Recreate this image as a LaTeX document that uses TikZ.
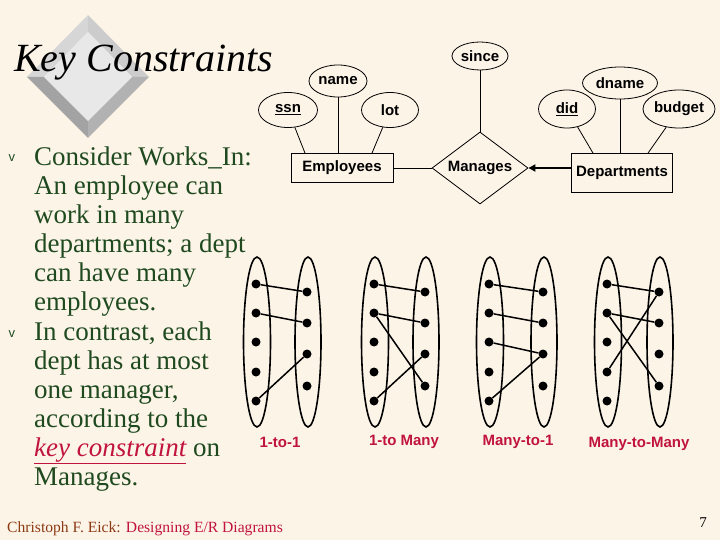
\documentclass[tikz,border=0pt]{standalone}
\usepackage{fontspec}
\setmainfont{Liberation Serif}
\newfontfamily\arialfont{Liberation Sans}
\usetikzlibrary{arrows.meta,shapes.geometric}
\definecolor{slidebg}{HTML}{FDF4E8}
\definecolor{textgreen}{HTML}{1F4A1F}
\definecolor{keyred}{HTML}{C0143C}
\definecolor{authorbrown}{HTML}{8C3A14}
\def\bipart#1#2#3{%
  \draw[set] (#2+1,342) ellipse (13.5 and 85);
  \draw[set] (#3+1,342) ellipse (13 and 85);
  \foreach \i/\y in {1/284,2/313,3/342,4/372,5/401}
    \node[dot] (#1l\i) at (#2,\y) {};
  \foreach \i/\y in {1/292,2/323,3/354,4/386}
    \node[dot] (#1r\i) at (#3,\y) {};
}

\begin{document}
\begin{tikzpicture}[x=1pt, y=-1pt,
    erfont/.style={font=\arialfont\bfseries\fontsize{15}{15}\selectfont},
    attr/.style={ellipse, draw, line width=0.8pt, erfont, inner sep=0pt},
    entity/.style={rectangle, draw, line width=0.8pt, erfont, inner sep=0pt},
    relship/.style={diamond, draw, line width=0.8pt, erfont, inner sep=0pt, aspect=1.33},
    dot/.style={circle, fill=black, inner sep=0pt, minimum size=9pt},
    set/.style={line width=1.6pt},
    link/.style={line width=1.5pt},
    maplabel/.style={erfont, text=keyred},
    bodytext/.style={anchor=base west, inner sep=0pt, align=left, text=textgreen,
      font=\fontsize{27}{29}\selectfont}]
  %%%%% START %%%%%

  \fill[slidebg] (0,0) rectangle (720,540);
  \useasboundingbox (0,0) rectangle (720,540);

  % title with bevelled diamond
  \fill[black!16] (88,15) -- (27,77) -- (44,77) -- (88,32) -- cycle;
  \fill[black!20] (88,15) -- (149,77) -- (132,77) -- (88,32) -- cycle;
  \fill[black!36] (27,77) -- (88,138) -- (88,121) -- (44,77) -- cycle;
  \fill[black!30] (149,77) -- (88,138) -- (88,121) -- (132,77) -- cycle;
  \fill[black!9] (88,32) -- (132,77) -- (88,121) -- (44,77) -- cycle;
  \node[anchor=base west, inner sep=0pt, font=\fontsize{40}{40}\selectfont\itshape] (title) at (14,72) {Key Constraints};

  % bullets (base = last line)
  \node[text=textgreen, font=\arialfont\fontsize{13}{13}\selectfont] (mark1) at (12,158) {v};
  \node[bodytext] (item1) at (34,310) {Consider Works\_In:\\An employee can\\work in many\\departments; a dept\\can have many\\employees.};
  \node[text=textgreen, font=\arialfont\fontsize{13}{13}\selectfont] (mark2) at (12,334) {v};
  \node[bodytext] (item2) at (34,485) {In contrast, each\\dept has at most\\one manager,\\according to the\\{\color{keyred}\itshape\underline{key constraint}} on\\Manages.};

  % E/R diagram
  \node[attr, minimum width=56pt, minimum height=28pt] (since) at (480,56) {since};
  \node[attr, minimum width=58pt, minimum height=32pt] (name) at (338,81) {name};
  \node[attr, minimum width=59pt, minimum height=35pt] (ssn) at (288,110) {\underline{ssn}};
  \node[attr, minimum width=57pt, minimum height=35pt] (lot) at (390,110) {lot};
  \node[entity, minimum width=102pt, minimum height=29pt] (emp) at (342,168) {Employees};
  \node[relship, minimum width=96pt, minimum height=72pt] (mng) at (480,168) {Manages};
  \node[entity, minimum width=101pt, minimum height=39pt] (dept) at (622,173) {Departments};
  \node[attr, minimum width=57pt, minimum height=38pt] (did) at (567,109) {\underline{did}};
  \node[attr, minimum width=75pt, minimum height=32pt] (dname) at (620,83) {dname};
  \node[attr, minimum width=72pt, minimum height=38pt] (budget) at (679,109) {budget};

  \draw[line width=0.8pt] (ssn) -- ([xshift=-37pt]emp.north);
  \draw[line width=0.8pt] (name) -- (name |- emp.north);
  \draw[line width=0.8pt] (lot) -- ([xshift=30pt]emp.north);
  \draw[line width=0.8pt] (emp) -- (mng);
  \draw[line width=0.8pt] (since) -- (mng.north);
  \draw[line width=0.8pt] (did) -- ([xshift=-29pt]dept.north);
  \draw[line width=0.8pt] (dname) -- (dname |- dept.north);
  \draw[line width=0.8pt] (budget) -- ([xshift=26pt]dept.north);
  \draw[line width=2pt, -{Triangle[length=7pt, width=7pt]}] (mng.east -| dept.west) -- (mng.east);

  % mappings
  \bipart{oo}{256}{307}
  \draw[link] (ool1) -- (oor1);
  \draw[link] (ool2) -- (oor2);
  \draw[link] (ool5) -- (oor3);
  \node[maplabel] (lab-oo) at (280,442) {1-to-1};

  \bipart{om}{374}{425}
  \draw[link] (oml1) -- (omr1);
  \draw[link] (oml2) -- (omr2);
  \draw[link] (oml2) -- (omr4);
  \draw[link] (oml5) -- (omr3);
  \node[maplabel] (lab-om) at (404,442) {1-to Many};

  \bipart{mo}{489}{543}
  \draw[link] (mol1) -- (mor1);
  \draw[link] (mol2) -- (mor2);
  \draw[link] (mol3) -- (mor3);
  \draw[link] (mol5) -- (mor3);
  \node[maplabel] (lab-mo) at (518,442) {Many-to-1};

  \bipart{mm}{607}{659}
  \draw[link] (mml1) -- (mmr1);
  \draw[link] (mml2) -- (mmr2);
  \draw[link] (mml2) -- (mmr4);
  \draw[link] (mml4) -- (mmr1);
  \node[maplabel] (lab-mm) at (639,444) {Many-to-Many};

  % footer
  \node[anchor=base west, inner sep=0pt, font=\fontsize{15.6}{15.6}\selectfont] (footer) at (7,532) {\color{authorbrown}Christoph F. Eick: \color{keyred}Designing E/R Diagrams};
  \node[anchor=base east, inner sep=0pt, font=\fontsize{15}{15}\selectfont] (pagenum) at (707,527) {7};

  %%%%% END %%%%%
\end{tikzpicture}
\end{document}
